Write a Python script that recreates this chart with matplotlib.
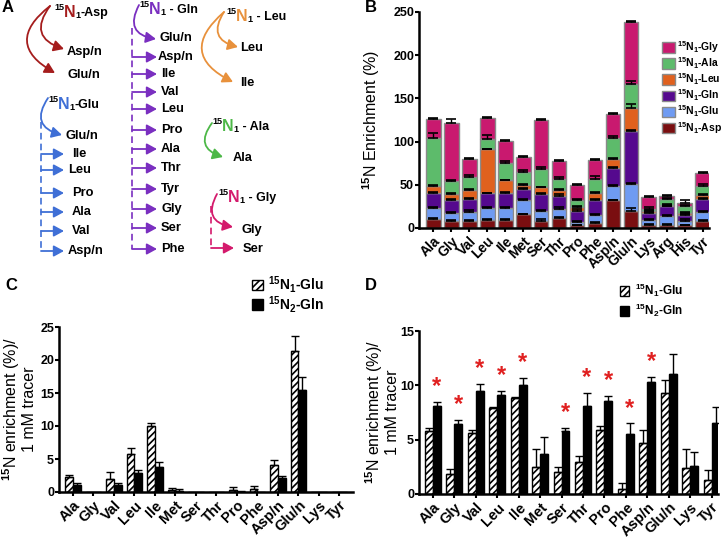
import numpy as np
import matplotlib.pyplot as plt
from matplotlib.patches import FancyArrowPatch, Patch

plt.rcParams['font.family'] = ['Liberation Sans', 'DejaVu Sans']
plt.rcParams['font.weight'] = 'bold'
plt.rcParams['mathtext.fontset'] = 'custom'
plt.rcParams['mathtext.rm'] = 'Liberation Sans:bold'
plt.rcParams['mathtext.bf'] = 'Liberation Sans:bold'
plt.rcParams['mathtext.it'] = 'Liberation Sans:bold'
plt.rcParams['mathtext.default'] = 'rm'
plt.rcParams['hatch.linewidth'] = 1.2
plt.rcParams['axes.linewidth'] = 1.8

# ---- panel B data: stacked 15N enrichment (%) by tracer ----
amino_b = ['Ala', 'Gly', 'Val', 'Leu', 'Ile', 'Met', 'Ser', 'Thr', 'Pro', 'Phe',
           'Asp/n', 'Glu/n', 'Lys', 'Arg', 'His', 'Tyr']
asp_b = [10, 8, 8, 9, 9, 16, 8, 11, 3, 6, 32, 20, 4, 4, 3, 8]
glu_b = [13, 9, 11, 14, 14, 16, 12, 11, 4, 9, 17, 31, 5, 10, 5, 11]
gln_b = [18, 15, 15, 17, 18, 13, 19, 15, 13, 17, 21, 61, 8, 11, 7, 15]
leu_b = [8, 7, 10, 51, 14, 5, 8, 7, 4, 9, 10, 27, 3, 2, 2, 4]
ala_b = [55, 15, 15, 12, 20, 15, 21, 13, 8, 16, 24, 28, 2, 7, 8, 11]
gly_b = [22, 67, 21, 24, 26, 17, 57, 21, 18, 22, 28, 72, 14, 3, 4, 15]
asp_b_err = [1, 1, 1, 1, 1, 0.5, 2, 2, 1, 1, 0.5, 3, 0.5, 0.5, 1, 1]
glu_b_err = [1, 2, 2, 1, 1, 1, 1, 2, 1, 1, 1, 1, 1, 1, 2, 1]
gln_b_err = [1, 1, 1, 1, 1, 1, 1, 2, 2, 1, 1, 1, 1, 1, 1, 1]
leu_b_err = [1, 1, 1, 1, 1, 1, 1, 1, 1, 1, 1, 4, 1, 1, 2, 1]
ala_b_err = [6, 2, 2, 5, 2, 2, 3, 2, 2, 3, 3, 3, 2, 1, 2, 2]
gly_b_err = [1, 5, 1, 1, 1, 1, 1, 1, 1, 1, 1, 1, 1, 1, 3, 1]

# ---- panels C and D: enrichment per 1 mM tracer ----
amino_cd = ['Ala', 'Gly', 'Val', 'Leu', 'Ile', 'Met', 'Ser', 'Thr', 'Pro', 'Phe',
            'Asp/n', 'Glu/n', 'Lys', 'Tyr']
c_glu = [2.2, 0, 2.0, 5.7, 10.0, 0.3, 0, 0, 0.3, 0.4, 4.1, 21.4, 0, 0]
c_glu_err = [0.4, 0, 1.0, 1.0, 0.4, 0.3, 0, 0, 0.4, 0.5, 0.7, 2.3, 0, 0]
c_gln = [1.0, 0, 1.0, 2.9, 3.8, 0.2, 0, 0, 0.05, 0, 2.1, 15.5, 0, 0]
c_gln_err = [0.3, 0, 0.4, 0.4, 0.7, 0.2, 0, 0, 0.05, 0, 0.4, 1.9, 0, 0]
d_glu = [5.8, 1.8, 5.6, 7.9, 8.8, 2.5, 2.0, 2.9, 5.9, 0.5, 4.7, 9.3, 2.4, 1.3]
d_glu_err = [0.3, 0.5, 0.3, 0.1, 0.15, 1.6, 0.5, 0.6, 0.4, 0.5, 1.2, 1.2, 1.7, 0.9]
d_gln = [8.1, 6.4, 9.5, 9.1, 10.0, 3.7, 5.8, 8.1, 8.6, 5.5, 10.3, 11.0, 2.6, 6.5]
d_gln_err = [0.4, 0.4, 0.6, 0.4, 0.7, 1.5, 0.3, 1.2, 0.4, 1.0, 0.5, 1.9, 1.3, 1.5]
d_signif = [True, True, True, True, True, False, True, True, True, True, True,
            False, False, False]

# ---- panel A: tracer -> labelled products ----
asp_products = ['Asp/n', 'Glu/n']
glu_products = ['Ile', 'Leu', 'Pro', 'Ala', 'Val', 'Asp/n']
gln_products = ['Asp/n', 'Ile', 'Val', 'Leu', 'Pro', 'Ala', 'Thr', 'Tyr', 'Gly', 'Ser', 'Phe']
leu_products = ['Leu', 'Ile']

c_asp, c_glu_col, c_gln_col = '#a51d1d', '#3f6fd6', '#7a2fc0'
c_leu, c_ala, c_gly = '#e8913c', '#4db848', '#d41a6c'

fig = plt.figure(figsize=(7.24, 5.41), dpi=100)
W, H = 724, 541


def axes_px(l, t, r, b):
    return fig.add_axes([l / W, 1 - b / H, (r - l) / W, (b - t) / H])


# ================= Panel A =================
axa = fig.add_axes([0, 1 - 270 / H, 360 / W, 270 / H])
axa.set_xlim(0, 360)
axa.set_ylim(270, 0)
axa.axis('off')


def title(x, y, name, color):
    n = axa.text(x, y, 'N', color=color, fontsize=11.5, va='baseline', ha='left')
    axa.annotate('15', xy=(0, 0.55), xycoords=n, ha='right', va='bottom', fontsize=6.5)
    s = axa.annotate('1', xy=(1, 0), xycoords=n, ha='left', va='bottom', fontsize=6.5)
    axa.annotate(name, xy=(1, 0.04), xycoords=(s, n), ha='left', va='bottom', fontsize=9)


def arrow(p0, p1, color, rad=0.0):
    axa.add_patch(FancyArrowPatch(p0, p1, connectionstyle=f'arc3,rad={rad}',
                                  arrowstyle='-|>,head_length=0.55,head_width=0.3',
                                  mutation_scale=11, color=color, lw=1.3,
                                  shrinkA=0, shrinkB=0))


def label(x, y, s):
    axa.text(x, y, s, fontsize=9.3, va='center', ha='left')


axa.text(2, 8, 'A', fontsize=12, va='center')

# Asp
title(64, 17, '-Asp', c_asp)
arrow((50, 6), (64, 49), c_asp, 0.7)
arrow((50, 6), (55, 73), c_asp, 0.75)
for yy, s in zip([52, 75], asp_products):
    label(67, yy, s)

# Glu
title(58, 109, '-Glu', c_glu_col)
arrow((48, 98), (62, 135), c_glu_col, 0.7)
label(66, 136, 'Glu/n')
glu_rows = [154, 170, 193, 212, 231, 251]
axa.plot([41, 41], [122, 251], color=c_glu_col, lw=1.2, ls=(0, (4, 2.5)))
for yy, s in zip(glu_rows, glu_products):
    arrow((41, yy), (64, yy), c_glu_col)
    label(68 if s in ('Leu', 'Asp/n') else 72, yy, s)

# Gln
title(149, 14, ' - Gln', c_gln_col)
arrow((139, 5), (156, 39), c_gln_col, 0.7)
label(159, 38, 'Glu/n')
gln_rows = [57, 74, 92, 109, 130, 149, 168, 189, 209, 228, 249]
axa.plot([132, 132], [28, 249], color=c_gln_col, lw=1.2, ls=(0, (4, 2.5)))
for yy, s in zip(gln_rows, gln_products):
    arrow((132, yy), (157, yy), c_gln_col)
    label(158 if s == 'Asp/n' else 161, yy, s)

# Leu
title(236, 21, ' - Leu', c_leu)
arrow((224, 12), (238, 47), c_leu, 0.7)
arrow((224, 12), (233, 82), c_leu, 0.75)
for yy, s in zip([48, 83], leu_products):
    label(240, yy, s)

# Ala
title(222, 131, ' - Ala', c_ala)
arrow((212, 123), (223, 157), c_ala, 0.7)
label(233, 158, 'Ala')

# Gly
title(228, 202, ' - Gly', c_gly)
arrow((217, 194), (233, 227), c_gly, 0.7)
label(242, 230, 'Gly')
axa.plot([211, 211], [206, 248], color=c_gly, lw=1.2, ls=(0, (4, 2.5)))
arrow((211, 248), (234, 248), c_gly)
label(243, 249, 'Ser')


def style_axes(ax, xsize):
    for side in ('top', 'right'):
        ax.spines[side].set_visible(False)
    ax.tick_params(axis='both', direction='out', length=3, width=1.5, pad=1.5, labelsize=9)
    ax.tick_params(axis='y', pad=0.5)
    ax.tick_params(axis='x', labelsize=xsize)
    for t in ax.get_yticklabels():
        t.set_fontweight('bold')


# ================= Panel B =================
axb = axes_px(419, 12, 709, 228)
xb = np.arange(len(amino_b))
series = [
    (asp_b, asp_b_err, '#7a0e10', '$^{15}$N$_1$-Asp'),
    (glu_b, glu_b_err, '#6f9bf2', '$^{15}$N$_1$-Glu'),
    (gln_b, gln_b_err, '#55098e', '$^{15}$N$_1$-Gln'),
    (leu_b, leu_b_err, '#e0611e', '$^{15}$N$_1$-Leu'),
    (ala_b, ala_b_err, '#5dbb6b', '$^{15}$N$_1$-Ala'),
    (gly_b, gly_b_err, '#c9196f', '$^{15}$N$_1$-Gly'),
]
bottom = np.zeros(len(amino_b))
handles = []
for vals, errs, col, lab in series:
    vals = np.array(vals, dtype=float)
    axb.bar(xb, vals, 0.82, bottom=bottom, color=col, edgecolor='#8a8a8a', lw=1.0, zorder=2)
    top = bottom + vals
    axb.errorbar(xb, top, yerr=[np.zeros_like(top), errs], fmt='none', ecolor='black',
                 elinewidth=1.0, capsize=3.5, capthick=1.2, zorder=3)
    bottom = top
    handles.append(Patch(facecolor=col, edgecolor='#8a8a8a', label=lab))
axb.set_xlim(-0.8, 15.35)
axb.set_ylim(0, 250)
axb.set_yticks([0, 50, 100, 150, 200, 250])
axb.set_xticks(xb)
axb.set_xticklabels(amino_b, rotation=45, ha='right', rotation_mode='anchor', fontweight='bold')
axb.set_ylabel('$^{15}$N Enrichment (%)', fontsize=11.5)
axb.yaxis.set_label_coords(-0.128, 0.5)
style_axes(axb, 10)
axb.legend(handles=handles[::-1], loc='upper left', bbox_to_anchor=(0.838, 0.875),
           frameon=False, fontsize=7.5, handlelength=1.2, handleheight=1.2,
           handletextpad=0.25, labelspacing=0.05, borderpad=0, borderaxespad=0)
fig.text(365 / W, 1 - 8 / H, 'B', fontsize=12, va='center')


def paired(ax, xs, a, a_err, b, b_err, w=0.37):
    a = np.array(a, dtype=float)
    b = np.array(b, dtype=float)
    ax.bar(xs - w / 2, a, w, color='white', edgecolor='black', hatch='/////', lw=1.0, zorder=2)
    ax.bar(xs + w / 2, b, w, color='black', edgecolor='black', lw=1.0, zorder=2)
    for xx, vv, ee in ((xs - w / 2, a, a_err), (xs + w / 2, b, b_err)):
        ee = np.array(ee, dtype=float)
        m = ee > 0
        ax.errorbar(xx[m], vv[m], yerr=[np.zeros(m.sum()), ee[m]], fmt='none', ecolor='black',
                    elinewidth=1.0, capsize=3, capthick=1.0, zorder=3)
    h = [Patch(facecolor='white', edgecolor='black', hatch='/////', label='$^{15}$N$_1$-Glu'),
         Patch(facecolor='black', edgecolor='black', label='$^{15}$N$_2$-Gln')]
    return h


xcd = np.arange(len(amino_cd))

# ================= Panel C =================
axc = axes_px(59, 327, 353, 492)
hc = paired(axc, xcd, c_glu, c_glu_err, c_gln, c_gln_err)
axc.set_xlim(-0.68, 13.66)
axc.set_ylim(0, 25)
axc.set_yticks([0, 5, 10, 15, 20, 25])
axc.set_xticks(xcd)
axc.set_xticklabels(amino_cd, rotation=45, ha='right', rotation_mode='anchor', fontweight='bold')
axc.set_ylabel('$^{15}$N enrichment (%)/\n1 mM tracer', fontsize=11.5, linespacing=1.0)
axc.yaxis.set_label_coords(-0.074, 0.5)
style_axes(axc, 10.5)
axc.legend(handles=hc, loc='upper left', bbox_to_anchor=(0.655, 1.32), frameon=False,
           fontsize=10, handlelength=0.8, handleheight=0.8, handletextpad=0.4,
           labelspacing=-0.1, borderpad=0, borderaxespad=0)
fig.text(5 / W, 1 - 286 / H, 'C', fontsize=12, va='center')

# ================= Panel D =================
axd = axes_px(419, 331, 718, 494)
hd = paired(axd, xcd, d_glu, d_glu_err, d_gln, d_gln_err)
for xx, top, ee, sig in zip(xcd, d_gln, d_gln_err, d_signif):
    if sig:
        axd.text(xx + 0.37 / 2, top + ee + 0.35, '*', color='#e02020', fontsize=17,
                 ha='center', va='bottom')
axd.set_xlim(-0.65, 13.3)
axd.set_ylim(0, 15)
axd.set_yticks([0, 5, 10, 15])
axd.set_xticks(xcd)
axd.set_xticklabels(amino_cd, rotation=45, ha='right', rotation_mode='anchor', fontweight='bold')
axd.set_ylabel('$^{15}$N enrichment (%)/\n1 mM tracer', fontsize=11.5, linespacing=1.0)
axd.yaxis.set_label_coords(-0.062, 0.5)
style_axes(axd, 10.5)
axd.legend(handles=hd, loc='upper left', bbox_to_anchor=(0.672, 1.3), frameon=False,
           fontsize=8.5, handlelength=0.8, handleheight=0.9, handletextpad=0.5,
           labelspacing=0.2, borderpad=0, borderaxespad=0)
fig.text(365 / W, 1 - 286 / H, 'D', fontsize=12, va='center')

fig.savefig('out.png', dpi=100)
